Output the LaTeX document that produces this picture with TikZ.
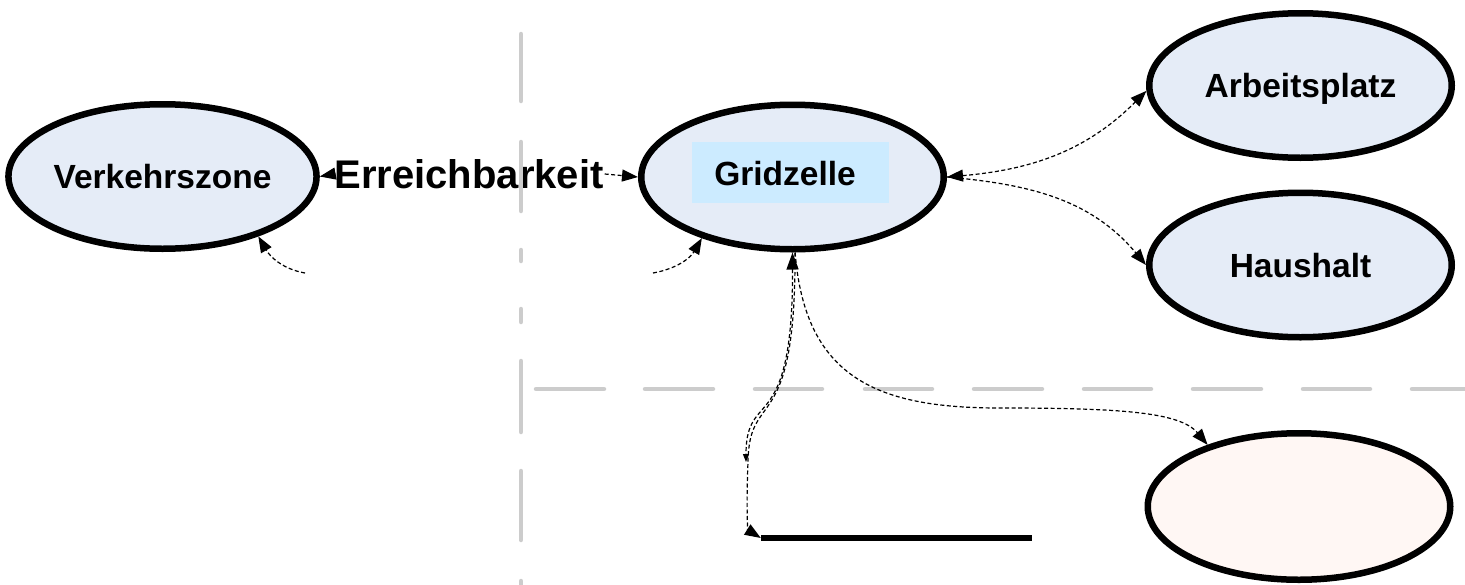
\documentclass[tikz,border=0pt]{standalone}
\usepackage{fontspec}
\setmainfont{Liberation Sans}
\usetikzlibrary{shapes.geometric,arrows.meta}
\definecolor{ellfill}{HTML}{E5ECF7}
\definecolor{boxfill}{HTML}{CCEBFF}
\definecolor{pinkfill}{HTML}{FFF7F4}
\definecolor{guide}{HTML}{CCCCCC}
\begin{document}
\begin{tikzpicture}[x=1pt,y=-1pt,
  >={Triangle[length=16pt,width=12pt]},
  ell/.style={ellipse, draw=black, line width=6.5pt, fill=ellfill,
    minimum width=302.5pt, minimum height=144.5pt, inner sep=0pt,
    font=\fontsize{33.5}{40}\selectfont\bfseries, text depth=0pt},
  lbl/.style={inner sep=0pt, font=\fontsize{33.5}{40}\selectfont\bfseries, text depth=0pt},
  conn/.style={line width=1.2pt, dash pattern=on 4pt off 2.5pt},
  guideline/.style={guide, line width=4.5pt, line cap=round}]
\useasboundingbox (0,0) rectangle (1465,584);
% nodes
\node[ell] (vz) at (162.5,176.5) {Verkehrszone};
\node[ell] (gz) at (792.5,177) {};
\node[fill=boxfill, minimum width=197pt, minimum height=61pt, inner sep=0pt] (gzbox) at (790.5,172.5) {};
\node[lbl] (gzlbl) at (785,173) {Gridzelle};
\node[ell] (ap) at (1300.5,85.5) {Arbeitsplatz};
\node[ell] (hh) at (1300.5,265) {Haushalt};
\node[ell, fill=pinkfill, minimum height=146.5pt] (bt) at (1299,506.5) {};
\node[inner sep=1pt, font=\fontsize{40}{48}\selectfont\bfseries, text depth=0pt] (err) at (469,174) {Erreichbarkeit};
\node[fill=black, minimum width=271pt, minimum height=6.5pt, inner sep=0pt] (bar) at (896.5,538) {};
% guide lines
\foreach \a/\b in {32/103,140/213,248/263,307/324,359/434,469/542,579/600}
  \draw[guideline] (521,\a+2) -- (521,\b-2);
\foreach \a/\b in {534/606,643/715,753/824,863/934,972/1044,1082/1153,1191/1263,1301/1372,1410/1480}
  \draw[guideline] (\a+2,389) -- (\b-2,389);
% connectors
\draw[conn,->] (err.west) -- (vz.east);
\draw[conn,->] (err.east) -- (gz.west);
\coordinate (vzs) at (305,273);
\draw[conn,->] (vzs) to[out=170, in=-60] (vz.-32);
\coordinate (gzs) at (653,273);
\draw[conn,->] (gzs) to[out=10, in=-120] (gz.-146);
\draw[conn,<->] (gz.east) to[out=5, in=-135] (ap.182);
\draw[conn,->] (gz.east) to[out=-5, in=130] (hh.west);
\coordinate (amid) at (746,462);
\draw[conn,{Triangle[length=17pt,width=12pt]}-{Triangle[length=8pt,width=6pt]}] (gz.south) .. controls (793,440) and (746,387) .. (amid);
\draw[conn,->] ([xshift=2.5pt]gz.south) .. controls (796,440) and (749,387) .. (748,462) .. controls (746,510) and (748,530) .. (bar.west);
\draw[conn,->] (gz.-88) .. controls (805,380) and (880,408) .. (1000,408) .. controls (1120,408) and (1180,412) .. (bt.146);
\end{tikzpicture}
\end{document}
